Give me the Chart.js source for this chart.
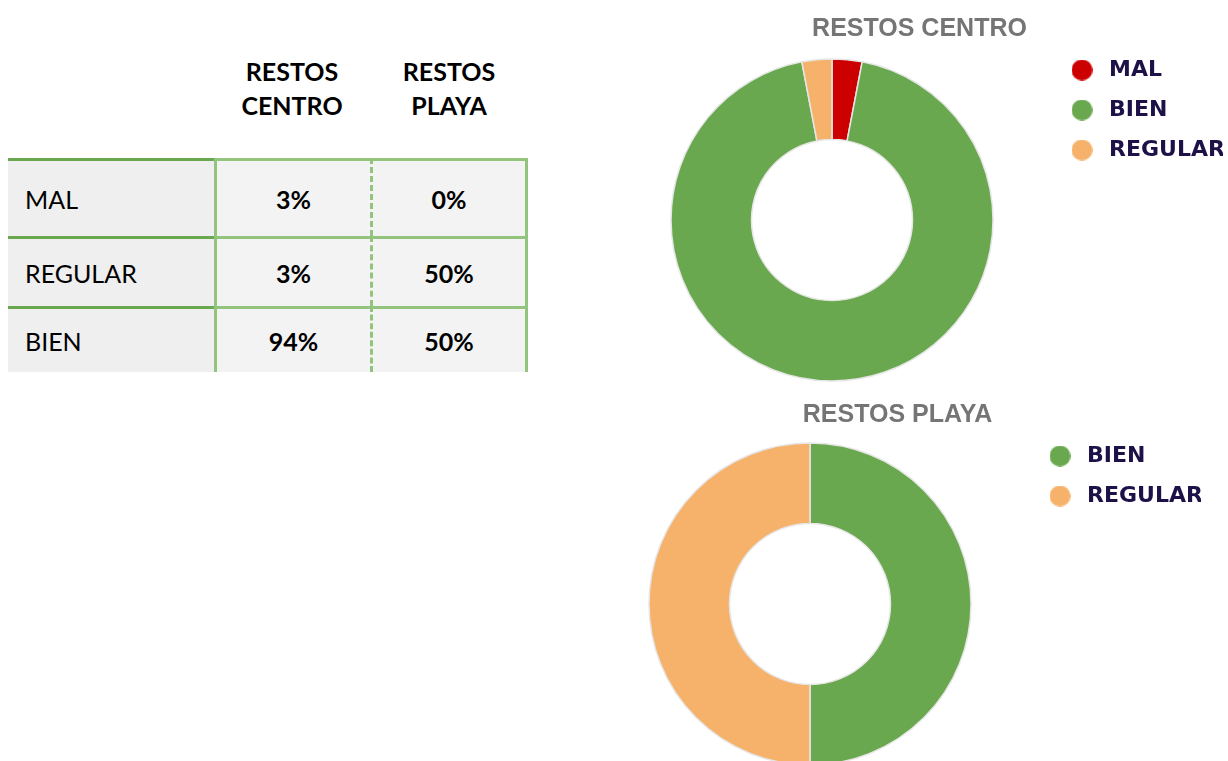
<!DOCTYPE html>
<html>
<head>
<meta charset="utf-8">
<script src="https://cdn.jsdelivr.net/npm/chart.js@4.4.0/dist/chart.umd.min.js"></script>
<style>
  html, body { margin: 0; padding: 0; background: #fff; }
  body { width: 1228px; height: 761px; overflow: hidden; position: relative; font-family: Lato, "Open Sans", sans-serif; }
  .head { position: absolute; top: 54px; font-weight: bold; font-size: 25px; line-height: 34px; text-align: center; color: #000; }
  #grid { position: absolute; left: 8px; top: 158px; display: grid;
          grid-template-columns: 206px 156px 158px; grid-template-rows: 78px 70px 66px; }
  #grid div { box-sizing: border-box; display: flex; align-items: center; font-size: 25px; color: #000; }
  #grid .lab { background: #efefef; border-top: 3px solid #6aa84f; padding-left: 17px; }
  #grid .val { background: #f3f3f3; border-top: 3px solid #93c47d; justify-content: center; font-weight: bold; }
  #grid .c1 { border-left: 3px solid #93c47d; }
  #grid .c2 { border-left: 3px dashed #93c47d; border-right: 3px solid #93c47d; }
  .box { position: absolute; width: 607px; }
</style>
</head>
<body>
<div class="head" style="left:214px;width:156px;">RESTOS<br>CENTRO</div>
<div class="head" style="left:370px;width:158px;">RESTOS<br>PLAYA</div>
<div id="grid"></div>

<div class="box" style="left:616px;top:0px;height:399px;"><canvas id="centro"></canvas></div>
<div class="box" style="left:594px;top:386px;height:395px;"><canvas id="playa"></canvas></div>

<script>
// table rows (same order as the reference table)
var categories = ['MAL', 'REGULAR', 'BIEN'];
var centroValues = [3, 3, 94];
var playaValues = [0, 50, 50];
// order of the slices / legend entries in the doughnuts
var doughnutOrder = ['MAL', 'BIEN', 'REGULAR'];
var categoryColors = { MAL: '#cc0000', BIEN: '#6aa84f', REGULAR: '#f6b26b' };

// build the table
var grid = document.getElementById('grid');
categories.forEach(function(cat, i) {
    var a = document.createElement('div');
    a.className = 'lab';
    a.textContent = cat;
    grid.appendChild(a);
    var b = document.createElement('div');
    b.className = 'val c1';
    b.textContent = centroValues[i] + '%';
    grid.appendChild(b);
    var c = document.createElement('div');
    c.className = 'val c2';
    c.textContent = playaValues[i] + '%';
    grid.appendChild(c);
});

// legend dot, drawn once per colour and used as pointStyle
function dot(color) {
    var c = document.createElement('canvas');
    c.width = 21;
    c.height = 21;
    var g = c.getContext('2d');
    g.fillStyle = color;
    g.beginPath();
    g.arc(10.5, 10.5, 10.5, 0, 2 * Math.PI);
    g.fill();
    return c;
}

function doughnut(id, title, values) {
    var labels = [], data = [], colors = [];
    doughnutOrder.forEach(function(cat) {
        var v = values[categories.indexOf(cat)];
        if (v > 0) {
            labels.push(cat);
            data.push(v);
            colors.push(categoryColors[cat]);
        }
    });

    var config = {
        type: 'doughnut',
        data: {
            labels: labels,
            datasets: [{
                data: data,
                backgroundColor: colors,
                borderColor: '#e6e6e6',
                borderWidth: 1.5
            }]
        },
        options: {
            responsive: true,
            maintainAspectRatio: false,
            animation: false,
            radius: 161,
            cutout: '50%',
            layout: { padding: 0 },
            events: [],
            plugins: {
                title: {
                    display: true,
                    text: title,
                    color: '#757575',
                    font: { family: 'Liberation Sans', size: 25, weight: 'bold', lineHeight: 0.96 },
                    padding: { top: 17, bottom: 0 }
                },
                legend: {
                    position: 'right',
                    align: 'start',
                    fullSize: false,
                    maxWidth: 175,
                    labels: {
                        usePointStyle: true,
                        pointStyleWidth: 32,
                        boxHeight: 15,
                        padding: 18,
                        color: '#1d1148',
                        font: { family: 'DejaVu Sans', size: 22, weight: 'bold' },
                        generateLabels: function(chart) {
                            var items = Chart.overrides.doughnut.plugins.legend.labels.generateLabels(chart);
                            items.forEach(function(it) {
                                it.lineWidth = 0;
                                it.pointStyle = dot(it.fillStyle);
                            });
                            return items;
                        }
                    }
                },
                tooltip: { enabled: false }
            }
        }
    };
    return new Chart(document.getElementById(id), config);
}

doughnut('centro', 'RESTOS CENTRO', centroValues);
doughnut('playa', 'RESTOS PLAYA', playaValues);
</script>
</body>
</html>
